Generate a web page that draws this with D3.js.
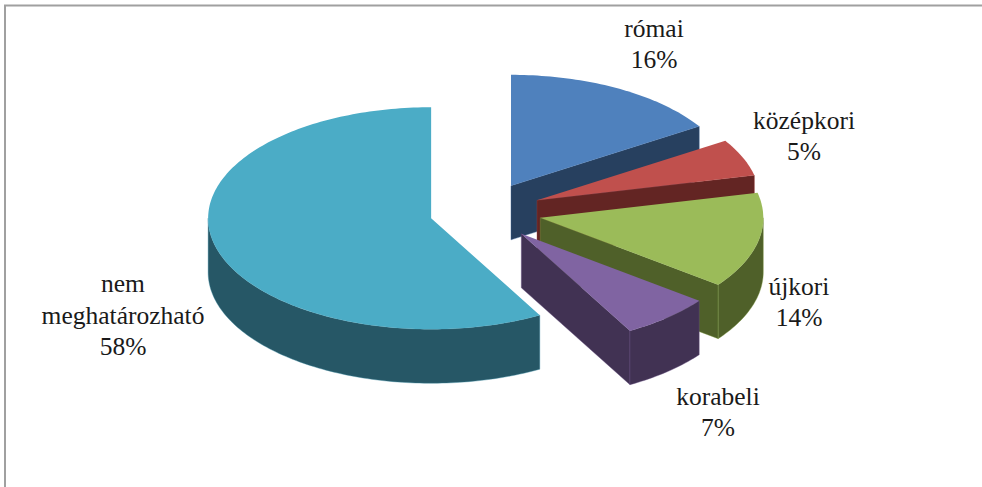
<!DOCTYPE html>
<html>
<head>
<meta charset="utf-8">
<script src="https://cdn.jsdelivr.net/npm/d3@7"></script>
<style>
body { margin: 0; background: #fff; }
svg { display: block; }
text { font-family: "Liberation Serif", serif; font-size: 25.5px; fill: #1a1a1a; text-anchor: middle; }
</style>
</head>
<body>
<svg width="982" height="487"></svg>
<script>
var categories = ['római', 'középkori', 'újkori', 'korabeli', 'nem|meghatározható'];
var shares = [16, 5.4, 13.9, 6.6, 58.1];
var explode = [0.265, 0.265, 0.265, 0.265, 0.238];

var topColors = ['#4f81bd', '#c0504d', '#9bbb59', '#8064a2', '#4bacc6'];
var sideColors = ['#27405f', '#632523', '#4f6029', '#413253', '#265766'];

// centre of each label block
var labelPos = [[654, 44], [804, 136], [799, 302], [718, 412], [123, 315]];

var depth = 54;
var lineGap = 31.5;

var svg = d3.select('svg');

// frame of the pasted chart, only top and left show
svg.append('path')
    .attr('d', 'M5,487V5.5H982')
    .attr('fill', 'none')
    .attr('stroke', '#a0a0a0')
    .attr('stroke-width', 2);

// unit circle -> squashed pie ellipse
var ScaleX = d3.scaleLinear().domain([-1, 1]).range([482.5 - 223, 482.5 + 223]);
var ScaleY = d3.scaleLinear().domain([-1, 1]).range([211.6 - 111, 211.6 + 111]);

var slices = d3.pie().sort(null).value(function(d){ return d; })(shares);

var line = d3.line();

function point(angle, r, off, drop) {
    return [
        ScaleX(r * Math.sin(angle) + off[0]),
        ScaleY(-r * Math.cos(angle) + off[1]) + drop
    ];
}

function arcPoints(a0, a1, off, drop) {
    var n = Math.max(2, Math.ceil((a1 - a0) / 0.02));
    return d3.range(n + 1).map(function(i){
        return point(a0 + (a1 - a0) * i / n, 1, off, drop);
    });
}

slices.forEach(function(s, i){
    var mid = (s.startAngle + s.endAngle) / 2;
    var off = [explode[i] * Math.sin(mid), -explode[i] * Math.cos(mid)];
    var g = svg.append('g');
    var edge = d3.color(sideColors[i]).brighter(1.3).formatHex();

    // cut face on the end side of the slice
    if (s.endAngle < Math.PI) {
        g.append('path')
            .attr('d', line([
                point(0, 0, off, 0),
                point(s.endAngle, 1, off, 0),
                point(s.endAngle, 1, off, depth),
                point(0, 0, off, depth)
            ]) + 'Z')
            .attr('fill', sideColors[i])
            .attr('stroke', edge)
            .attr('stroke-width', 0.4);
    }

    // outer wall, only the front half of the ellipse can be seen
    var a0 = Math.max(s.startAngle, Math.PI / 2);
    var a1 = Math.min(s.endAngle, 3 * Math.PI / 2);
    if (a1 > a0) {
        g.append('path')
            .attr('d', line(arcPoints(a0, a1, off, 0).concat(arcPoints(a0, a1, off, depth).reverse())) + 'Z')
            .attr('fill', sideColors[i])
            .attr('stroke', edge)
            .attr('stroke-width', 0.4);
    }

    // top face
    g.append('path')
        .attr('d', line([point(0, 0, off, 0)].concat(arcPoints(s.startAngle, s.endAngle, off, 0))) + 'Z')
        .attr('fill', topColors[i]);
});

// labels
categories.forEach(function(c, i){
    var rows = c.split('|').concat([d3.format('.0f')(shares[i]) + '%']);
    var top = labelPos[i][1] - (rows.length - 1) * lineGap / 2;
    rows.forEach(function(r, j){
        svg.append('text')
            .attr('x', labelPos[i][0])
            .attr('y', top + j * lineGap)
            .attr('dy', '0.34em')
            .text(r);
    });
});
</script>
</body>
</html>
